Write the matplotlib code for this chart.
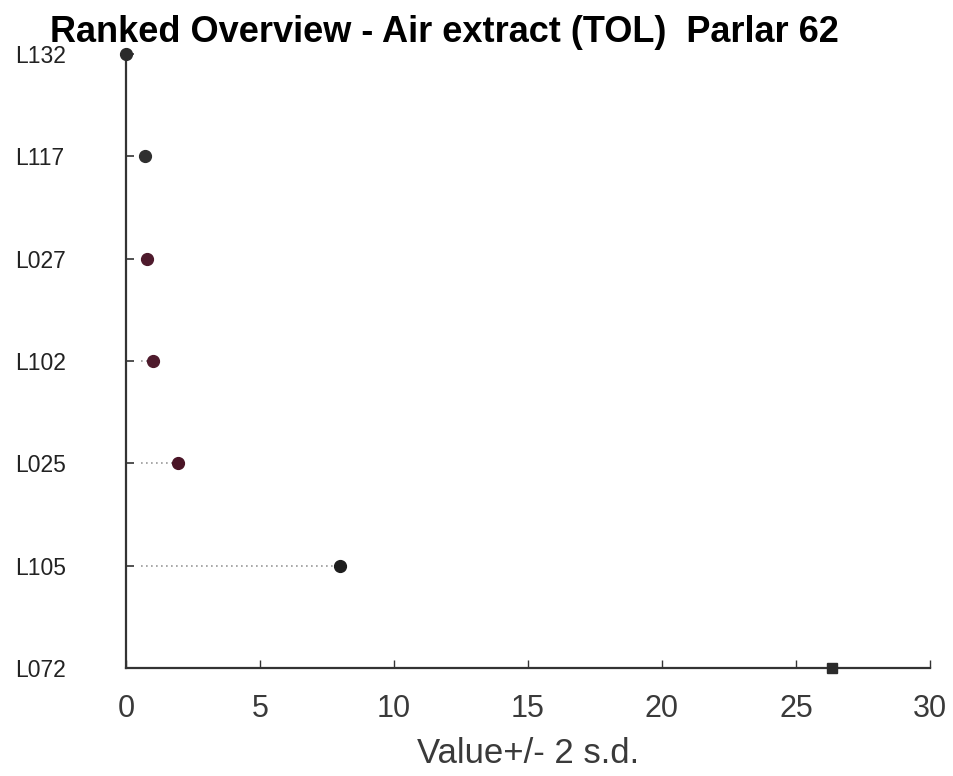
import matplotlib
matplotlib.use("Agg")
import matplotlib.pyplot as plt

# ================= DATA =================
labs = ["L132", "L117", "L027", "L102", "L025", "L105", "L072"]
vals = [0.0, 0.7, 0.78, 1.0, 1.95, 8.0, 26.35]
lower = [None, None, None, 0.55, 0.55, 0.55, None]
cols = ["#2b2b2b", "#2f2f2f", "#4e1a2c", "#4e1a2c", "#4a1426", "#1e1e1e", "#2b2b2b"]
marks = ["o", "o", "o", "o", "o", "o", "s"]
xticks = [0, 5, 10, 15, 20, 25, 30]

plt.rcParams['font.family'] = ['Liberation Sans', 'DejaVu Sans']

fig = plt.figure(figsize=(9.54, 7.76), dpi=100)
ax = fig.add_axes([126 / 954, 108 / 776, 804 / 954, 614 / 776])

ypos = list(range(len(labs)))

# dotted range lines
for y, v, lo in zip(ypos, vals, lower):
    if lo is not None:
        ax.plot([lo, v], [y, y], linestyle=(0, (1, 2)), color="#9a9a9a", lw=1.2, zorder=2)

# points
for y, v, c, m in zip(ypos, vals, cols, marks):
    ms = 8.5 if m == "o" else 7
    ax.plot(v, y, m, color=c, markersize=ms, zorder=4, clip_on=False)

ax.set_xlim(0, 30)
ax.set_ylim(len(labs) - 1, 0)
ax.set_yticks(ypos)
ax.set_yticklabels(labs, fontsize=16.5, color="#222222")
ax.set_xticks(xticks)
ax.set_xticklabels([str(t) for t in xticks], fontsize=22, color="#3a3a3a")

ax.tick_params(axis="y", direction="in", length=6, width=1.2, color="#333333", pad=80)
ax.tick_params(axis="x", direction="in", length=6, width=1.0, color="#333333", pad=19)
for lab in ax.get_yticklabels():
    lab.set_horizontalalignment("left")

for s in ["top", "right"]:
    ax.spines[s].set_visible(False)
for s in ["left", "bottom"]:
    ax.spines[s].set_color("#333333")
    ax.spines[s].set_linewidth(1.6)

ax.set_xlabel("Value+/- 2 s.d.", fontsize=25, color="#3a3a3a", labelpad=9)

fig.text(50 / 954, 1 - 33 / 776, "Ranked Overview - Air extract (TOL)  Parlar 62",
         fontsize=26, fontweight="bold", va="center", ha="left")

fig.savefig("out.png", dpi=100)
